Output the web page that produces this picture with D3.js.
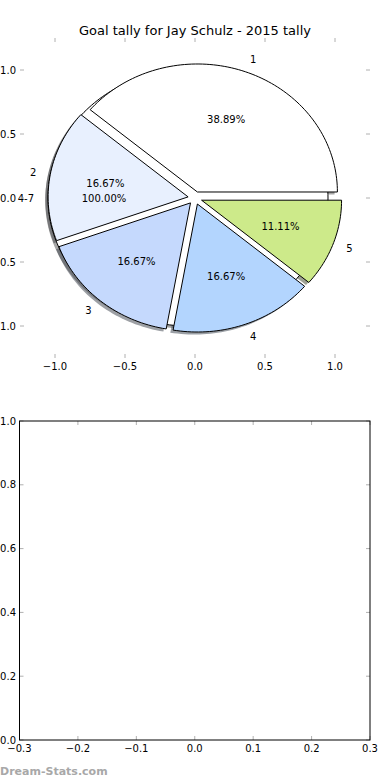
<!DOCTYPE html>
<html>
<head>
<meta charset="utf-8">
<script src="https://cdn.jsdelivr.net/npm/d3@7"></script>
<style>
html,body{margin:0;padding:0;background:#fff;}
svg{display:block;}
text{font-family:"DejaVu Sans",sans-serif;fill:#000;}
</style>
</head>
<body>
<svg id="chart" width="390" height="780"></svg>
<script>
// ---- data ----
const categories = ["1", "2", "3", "4", "5"];
const goals = [7, 3, 3, 3, 2];
const otherCategories = ["4-7"];
const otherGoals = [1];
const pieTicks = [-1.0, -0.5, 0.0, 0.5, 1.0];
const emptyXTicks = [-0.3, -0.2, -0.1, 0.0, 0.1, 0.2, 0.3];
const emptyYTicks = [0.0, 0.2, 0.4, 0.6, 0.8, 1.0];
const title = "Goal tally for Jay Schulz - 2015 tally";

// ---- styles ----
const palette = ["#ffffff", "#e8f0fe", "#c5d9fd", "#b3d5fe", "#cdea8a"];
const otherPalette = ["#ffffff"];
const explode = 0.05;

const svg = d3.select("#chart");
const fmtTick = v => (v < 0 ? "\u2212" : "") + Math.abs(v).toFixed(1);

// ---- top axes (pie) ----
const x = d3.scaleLinear().domain([-1.25, 1.25]).range([20, 370]);
const y = d3.scaleLinear().domain([-1.25, 1.25]).range([358, 38]);
const line = d3.line().x(d => x(d[0])).y(d => y(d[1]));

function wedgePts(cx, cy, r, t1, t2) {
  const full = Math.abs(t2 - t1 - 360) < 1e-9;
  const n = Math.max(4, Math.ceil((t2 - t1) / 1.5));
  const pts = d3.range(n + 1).map(i => {
    const t = (t1 + (t2 - t1) * i / n) * Math.PI / 180;
    return [cx + r * Math.cos(t), cy + r * Math.sin(t)];
  });
  return full ? pts : [[cx, cy]].concat(pts, [[cx, cy]]);
}

function layoutPie(values, labels, colors) {
  const total = d3.sum(values);
  let theta1 = 0;
  return values.map((v, i) => {
    const theta2 = theta1 + 360 * v / total;
    const tm = (theta1 + theta2) / 2 * Math.PI / 180;
    const cx = explode * Math.cos(tm), cy = explode * Math.sin(tm);
    const w = {label: labels[i], value: v, pct: 100 * v / total, t1: theta1, t2: theta2, tm, cx, cy, color: colors[i]};
    theta1 = theta2;
    return w;
  });
}

const otherPie = layoutPie(otherGoals, otherCategories, otherPalette);
const mainPie = layoutPie(goals, categories, palette);
const allWedges = otherPie.concat(mainPie);

function shadowColor(c) {
  const rgb = d3.rgb(c);
  return d3.rgb(rgb.r * 0.3, rgb.g * 0.3, rgb.b * 0.3).formatRgb();
}

const pieG = svg.append("g");
// shadows (drawn beneath all wedges)
pieG.selectAll("path.shadow").data(allWedges).join("path")
  .attr("class", "shadow")
  .attr("d", d => line(wedgePts(d.cx - 0.02, d.cy - 0.02, 1, d.t1, d.t2)) + "Z")
  .attr("fill", d => shadowColor(d.color))
  .attr("fill-opacity", 0.5)
  .attr("stroke", "none");
// wedges
pieG.selectAll("path.wedge").data(allWedges).join("path")
  .attr("class", "wedge")
  .attr("d", d => line(wedgePts(d.cx, d.cy, 1, d.t1, d.t2)) + "Z")
  .attr("fill", d => d.color)
  .attr("stroke", "#000")
  .attr("stroke-width", 1)
  .attr("stroke-linejoin", "miter");

// labels
pieG.selectAll("text.lbl").data(allWedges).join("text")
  .attr("class", "lbl")
  .attr("x", d => x(d.cx + 1.1 * Math.cos(d.tm)))
  .attr("y", d => y(d.cy + 1.1 * Math.sin(d.tm)))
  .attr("dy", "0.35em")
  .attr("text-anchor", d => (d.cx + 1.1 * Math.cos(d.tm)) > 0 ? "start" : "end")
  .attr("font-size", 10)
  .text(d => d.label);
// percentages
pieG.selectAll("text.pct").data(allWedges).join("text")
  .attr("class", "pct")
  .attr("x", d => x(d.cx + 0.6 * Math.cos(d.tm)))
  .attr("y", d => y(d.cy + 0.6 * Math.sin(d.tm)))
  .attr("dy", "0.35em")
  .attr("text-anchor", "middle")
  .attr("font-size", 10)
  .text(d => d.pct.toFixed(2) + "%");

// ticks (frame off)
const tickColor = "#b0b0b0";
const ax1 = svg.append("g");
function tickMarks(g, xs, ys, xsc, ysc, x0, x1, y0, y1) {
  xs.forEach(v => {
    g.append("line").attr("x1", xsc(v)).attr("x2", xsc(v)).attr("y1", y0).attr("y2", y0 + 4).attr("stroke", tickColor);
    g.append("line").attr("x1", xsc(v)).attr("x2", xsc(v)).attr("y1", y1).attr("y2", y1 - 4).attr("stroke", tickColor);
  });
  ys.forEach(v => {
    g.append("line").attr("x1", x0).attr("x2", x0 + 4).attr("y1", ysc(v)).attr("y2", ysc(v)).attr("stroke", tickColor);
    g.append("line").attr("x1", x1).attr("x2", x1 - 4).attr("y1", ysc(v)).attr("y2", ysc(v)).attr("stroke", tickColor);
  });
}
tickMarks(ax1, pieTicks, pieTicks, x, y, 20, 370, 38, 358);
ax1.selectAll("text.xt").data(pieTicks).join("text")
  .attr("class", "xt").attr("x", d => x(d)).attr("y", 366).attr("dy", "0.35em")
  .attr("text-anchor", "middle").attr("font-size", 10).text(fmtTick);
ax1.selectAll("text.yt").data(pieTicks).join("text")
  .attr("class", "yt").attr("x", 16).attr("y", d => y(d)).attr("dy", "0.35em")
  .attr("text-anchor", "end").attr("font-size", 10).text(fmtTick);

svg.append("text").attr("x", 195).attr("y", 30).attr("dy", "0.35em")
  .attr("text-anchor", "middle").attr("font-size", 13).text(title);

// ---- bottom empty axes ----
const x2 = d3.scaleLinear().domain([-0.3, 0.3]).range([19.5, 370]);
const y2 = d3.scaleLinear().domain([0, 1]).range([740, 421]);
const ax2 = svg.append("g");
tickMarks(ax2, emptyXTicks, emptyYTicks, x2, y2, 19.5, 370, 421, 740);
ax2.append("rect").attr("x", 19.5).attr("y", 421).attr("width", 350.5).attr("height", 319)
  .attr("fill", "none").attr("stroke", "#000").attr("stroke-width", 1);
ax2.selectAll("text.xt").data(emptyXTicks).join("text")
  .attr("class", "xt").attr("x", d => x2(d)).attr("y", 748).attr("dy", "0.35em")
  .attr("text-anchor", "middle").attr("font-size", 10).text(fmtTick);
ax2.selectAll("text.yt").data(emptyYTicks).join("text")
  .attr("class", "yt").attr("x", 16).attr("y", d => y2(d)).attr("dy", "0.35em")
  .attr("text-anchor", "end").attr("font-size", 10).text(fmtTick);

// watermark
svg.append("text").attr("x", 0).attr("y", 775)
  .attr("font-family", "'Open Sans', sans-serif").attr("font-weight", "600")
  .attr("font-size", 11).style("fill", "#a8a8a8").text("Dream-Stats.com");
</script>
</body>
</html>
